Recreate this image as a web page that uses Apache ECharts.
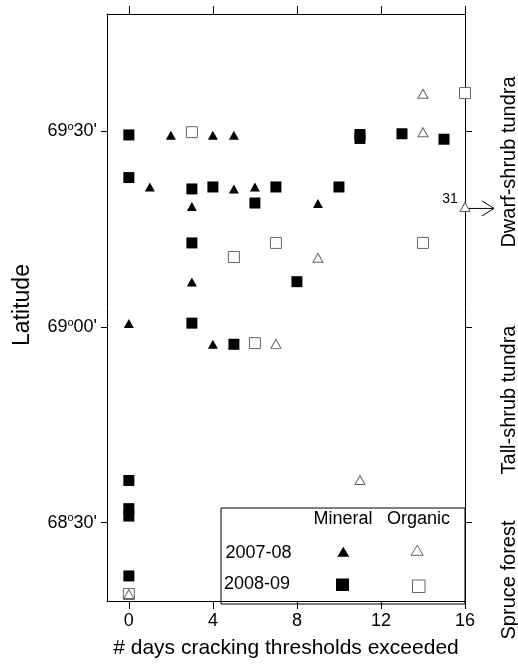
<!DOCTYPE html>
<html>
<head>
<meta charset="utf-8">
<script src="https://cdn.jsdelivr.net/npm/echarts@6/dist/echarts.min.js"></script>
<style>
  html, body { margin: 0; padding: 0; background: #fff; }
  #chart { width: 518px; height: 664px; }
</style>
</head>
<body>
<div id="chart"></div>
<script>
// days exceeded, latitude (decimal degrees)
var mineral0708 = [
  [2, 69.490], [4, 69.490], [5, 69.490],
  [1, 69.358], [5, 69.353], [6, 69.358],
  [9, 69.316], [3, 69.308], [3, 69.115],
  [0, 69.009], [4, 68.956]
];
var mineral0809 = [
  [0, 69.491], [11, 69.492], [11, 69.482], [13, 69.494], [15, 69.480],
  [0, 69.382], [3, 69.353], [4, 69.358], [7, 69.358], [10, 69.358],
  [6, 69.317], [3, 69.215], [8, 69.116], [3, 69.010], [5, 68.956],
  [0, 68.608], [0, 68.536], [0, 68.517], [0, 68.364]
];
var organic0708 = [
  [14, 69.596], [14, 69.498], [16, 69.307], [9, 69.177],
  [7, 68.957], [11, 68.609], [0, 68.318]
];
var organic0809 = [
  [3, 69.498], [16, 69.598], [7, 69.215], [14, 69.215],
  [5, 69.179], [6, 68.959], [0, 68.318]
];
var xTicks = [0, 4, 8, 12, 16];
var yTicks = [68.5, 69, 69.5];
var zones = ['Dwarf-shrub tundra', 'Tall-shrub tundra', 'Spruce forest'];
var outlierLabel = '31';
var outlierPoint = [16, 69.307];

var font = "'Liberation Sans', Arial, Helvetica, sans-serif";
var chart = echarts.init(document.getElementById('chart'));

function latLabel(v) {
  var d = Math.floor(v + 1e-6);
  var m = Math.round((v - d) * 60);
  return '{n|' + d + '}{s|o}{n|' + (m < 10 ? '0' + m : m) + "'}";
}

var xBase = {
  type: 'value', min: -1.04, max: 16,
  axisLine: { show: true, onZero: false, lineStyle: { color: '#000', width: 1 } },
  axisTick: { show: true, inside: false, length: 8, customValues: xTicks, lineStyle: { color: '#000' } },
  splitLine: { show: false }
};
var yBase = {
  type: 'value', min: 68.3, max: 69.8,
  axisLine: { show: true, onZero: false, lineStyle: { color: '#000', width: 1 } },
  axisTick: { show: true, inside: false, length: 7, customValues: yTicks, lineStyle: { color: '#000' } },
  splitLine: { show: false }
};

var filledStyle = { color: '#000', opacity: 1, borderWidth: 0 };
var openStyle = { color: '#fff', borderColor: '#666', borderWidth: 1, opacity: 1 };

chart.setOption({
  animation: false,
  textStyle: { fontFamily: font },
  grid: { left: 107, right: 53, top: 14, bottom: 60 },
  xAxis: [
    Object.assign({}, xBase, {
      position: 'bottom',
      name: '# days cracking thresholds exceeded',
      nameLocation: 'middle', nameGap: 37,
      nameTextStyle: { fontSize: 21, color: '#000', fontFamily: font },
      axisLabel: { show: true, customValues: xTicks, margin: 11, fontSize: 18, color: '#000', fontFamily: font }
    }),
    Object.assign({}, xBase, { position: 'top', axisLabel: { show: false } })
  ],
  yAxis: [
    Object.assign({}, yBase, {
      position: 'left',
      axisTick: Object.assign({}, yBase.axisTick, { length: 6 }),
      axisLabel: {
        show: true, customValues: yTicks, margin: 10, formatter: latLabel,
        rich: {
          n: { fontSize: 18, color: '#000', fontFamily: font, lineHeight: 20 },
          s: { fontSize: 11, color: '#000', fontFamily: font, verticalAlign: 'top', lineHeight: 20 }
        }
      }
    }),
    Object.assign({}, yBase, { position: 'right', axisLabel: { show: false } })
  ],
  series: [
    { name: 'Mineral 2008-09', type: 'scatter', data: mineral0809, symbol: 'rect', symbolSize: 11,
      itemStyle: filledStyle },
    { name: 'Mineral 2007-08', type: 'scatter', data: mineral0708, symbol: 'triangle', symbolSize: [10, 9],
      itemStyle: filledStyle },
    { name: 'Organic 2008-09', type: 'scatter', data: organic0809, symbol: 'rect', symbolSize: 11,
      itemStyle: openStyle },
    { name: 'Organic 2007-08', type: 'scatter', data: organic0708, symbol: 'triangle', symbolSize: [10, 9],
      itemStyle: openStyle }
  ]
});

// legend box, vertical labels and the outlier arrow
var p = chart.convertToPixel({ gridIndex: 0 }, outlierPoint);
var txt = function (x, y, s, size, rot) {
  return {
    type: 'text', x: x, y: y, rotation: rot || 0,
    style: { text: s, fontSize: size, fontFamily: font, fill: '#000', align: 'center', verticalAlign: 'middle' }
  };
};
var up = Math.PI / 2;
chart.setOption({
  graphic: [
    { type: 'rect', shape: { x: 221, y: 508, width: 244, height: 96 },
      style: { fill: '#fff', stroke: '#000', lineWidth: 1 } },
    txt(343, 519, 'Mineral', 18),
    txt(418.5, 519, 'Organic', 18),
    txt(258.5, 553, '2007-08', 18),
    txt(257, 584, '2008-09', 18),
    { type: 'polygon', shape: { points: [[337.3, 556.7], [343.3, 546.7], [349.3, 556.7]] },
      style: { fill: '#000' } },
    { type: 'polygon', shape: { points: [[411.2, 555.3], [417.2, 545.2], [423.2, 555.3]] },
      style: { fill: '#fff', stroke: '#666', lineWidth: 1 } },
    { type: 'rect', shape: { x: 336, y: 578.5, width: 13, height: 12.5 }, style: { fill: '#000' } },
    { type: 'rect', shape: { x: 412.5, y: 580, width: 12.5, height: 12.5 },
      style: { fill: '#fff', stroke: '#666', lineWidth: 1 } },
    txt(23, 305, 'Latitude', 23, up),
    txt(509, 162, zones[0], 20, up),
    txt(509, 400, zones[1], 20, up),
    txt(509, 580, zones[2], 20, up),
    txt(p[0] - 15, p[1] - 8, outlierLabel, 14),
    { type: 'line', shape: { x1: p[0], y1: p[1] + 1.5, x2: p[0] + 29, y2: p[1] + 1.5 },
      style: { stroke: '#000', lineWidth: 1 } },
    { type: 'polyline', shape: { points: [[p[0] + 17, p[1] - 6], [p[0] + 29, p[1] + 1.5], [p[0] + 17, p[1] + 9]] },
      style: { stroke: '#000', lineWidth: 1, fill: 'none' } }
  ]
});
</script>
</body>
</html>
